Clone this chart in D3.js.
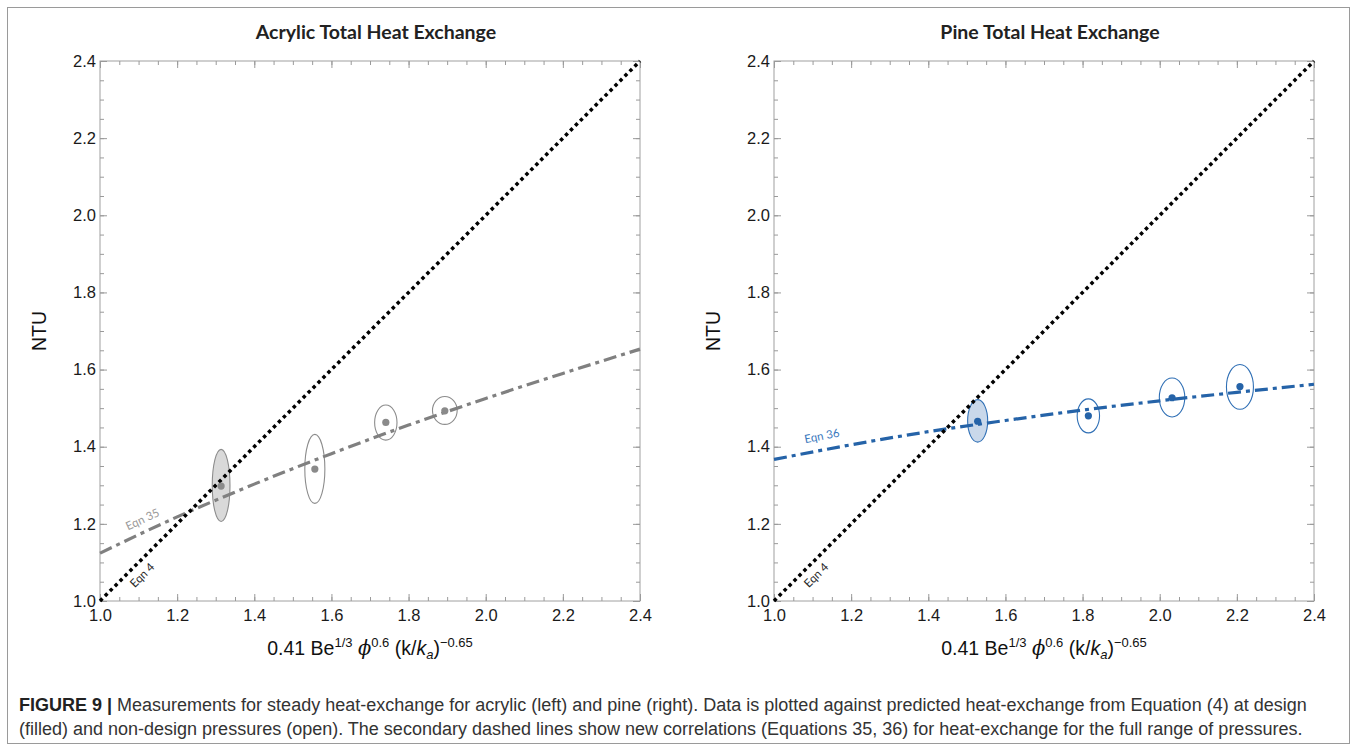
<!DOCTYPE html>
<html>
<head>
<meta charset="utf-8">
<script src="https://cdn.jsdelivr.net/npm/d3@7"></script>
<style>
  body { margin: 0; background: #fff; }
  svg { display: block; font-family: "Liberation Sans", Arial, sans-serif; }
</style>
</head>
<body>
<svg width="1357" height="750"></svg>
<script>
// axis ticks (both panels share the same range)
const majorTicks = [1.0, 1.2, 1.4, 1.6, 1.8, 2.0, 2.2, 2.4];
const minorTicks = d3.range(20, 49).map(d => d / 20);

// acrylic measurements
const acrylicX = [1.314, 1.557, 1.741, 1.894];
const acrylicY = [1.298, 1.342, 1.463, 1.493];
const acrylicLo = [1.206, 1.253, 1.417, 1.458];
const acrylicHi = [1.393, 1.432, 1.508, 1.530];
const acrylicDx = [0.023, 0.026, 0.029, 0.032];
const acrylicFilled = [true, false, false, false];

// pine measurements
const pineX = [1.528, 1.815, 2.032, 2.208];
const pineY = [1.466, 1.480, 1.527, 1.556];
const pineLo = [1.412, 1.436, 1.477, 1.497];
const pineHi = [1.522, 1.524, 1.578, 1.613];
const pineDx = [0.026, 0.029, 0.033, 0.035];
const pineFilled = [true, false, false, false];

// correlation curves
const curveX = [1.0, 1.2, 1.4, 1.6, 1.8, 2.0, 2.2, 2.4];
const eqn35Y = [1.124, 1.218, 1.303, 1.382, 1.456, 1.525, 1.590, 1.653];
const eqn36Y = [1.367, 1.405, 1.439, 1.468, 1.495, 1.519, 1.541, 1.562];
const eqn4X = [1.0, 2.4];
const eqn4Y = [1.0, 2.4];

const svg = d3.select('svg');

svg.append('rect')
  .attr('x', 7.5).attr('y', 7.5)
  .attr('width', 1342).attr('height', 736)
  .attr('fill', 'none')
  .attr('stroke', '#9a9a9a');

function panel(opts) {
  const x = d3.scaleLinear().domain([1, 2.4]).range([opts.left, opts.left + 540]);
  const y = d3.scaleLinear().domain([1, 2.4]).range([601, 61]);
  const g = svg.append('g');
  const fmt = d3.format('.1f');

  // frame
  g.append('rect')
    .attr('x', x(1)).attr('y', y(2.4))
    .attr('width', x(2.4) - x(1)).attr('height', y(1) - y(2.4))
    .attr('fill', 'none').attr('stroke', '#a0a0a0');

  const axes = [
    [d3.axisBottom(x), 'translate(0,' + y(1) + ')', true, 8],
    [d3.axisTop(x), 'translate(0,' + y(2.4) + ')', false, 4],
    [d3.axisLeft(y), 'translate(' + x(1) + ',0)', true, 4],
    [d3.axisRight(y), 'translate(' + x(2.4) + ',0)', false, 4]
  ];
  axes.forEach(function (a) {
    const gm = g.append('g').attr('transform', a[1]);
    gm.call(a[0].tickValues(minorTicks).tickSize(-4).tickFormat(''));
    gm.select('.domain').remove();
    gm.selectAll('line').attr('stroke', '#9a9a9a');
    const gM = g.append('g').attr('transform', a[1]);
    gM.call(a[0].tickValues(majorTicks).tickSize(-7)
      .tickPadding(a[3])
      .tickFormat(a[2] ? fmt : ''));
    gM.select('.domain').remove();
    gM.selectAll('line').attr('stroke', '#9a9a9a');
    gM.selectAll('text').attr('font-size', 16.5).attr('fill', '#1a1a1a')
      .attr('font-family', '"Liberation Sans", Arial, sans-serif');
  });

  // title
  g.append('text')
    .attr('x', opts.left + 276).attr('y', 39)
    .attr('text-anchor', 'middle')
    .attr('font-family', 'Lato, "Open Sans", sans-serif')
    .attr('font-weight', 'bold').attr('font-size', 19.5)
    .attr('fill', '#222')
    .text(opts.title);

  // y label
  g.append('text')
    .attr('transform', 'translate(' + (opts.left - 54) + ',' + y(1.7) + ') rotate(-90)')
    .attr('text-anchor', 'middle')
    .attr('font-size', 19.5).attr('fill', '#111')
    .text('NTU');

  // x label with super/subscripts
  const xl = g.append('text')
    .attr('x', opts.left + 270).attr('y', 655)
    .attr('text-anchor', 'middle')
    .attr('font-size', 19.5).attr('fill', '#111');
  xl.append('tspan').text('0.41 Be');
  xl.append('tspan').attr('dy', -8).attr('font-size', 13).text('1/3');
  xl.append('tspan').attr('dy', 8).text(' ');
  xl.append('tspan').attr('font-style', 'italic').attr('font-family', '"DejaVu Serif", serif').text('\u03D5');
  xl.append('tspan').attr('dy', -8).attr('font-size', 13).text('0.6');
  xl.append('tspan').attr('dy', 8).text(' (k/');
  xl.append('tspan').attr('font-style', 'italic').text('k');
  xl.append('tspan').attr('dy', 4).attr('font-size', 13).attr('font-style', 'italic').text('a');
  xl.append('tspan').attr('dy', -4).text(')');
  xl.append('tspan').attr('dy', -8).attr('font-size', 13).text('\u22120.65');

  // ellipses
  const pts = opts.xs.map((d, i) => ({
    x: d, y: opts.ys[i], lo: opts.lo[i], hi: opts.hi[i], dx: opts.dx[i], filled: opts.filled[i]
  }));
  g.selectAll('.ell').data(pts).enter().append('ellipse')
    .attr('class', 'ell')
    .attr('cx', d => x(d.x))
    .attr('cy', d => (y(d.lo) + y(d.hi)) / 2)
    .attr('rx', d => x(d.x + d.dx) - x(d.x))
    .attr('ry', d => (y(d.lo) - y(d.hi)) / 2)
    .attr('fill', d => d.filled ? opts.fill : 'none')
    .attr('stroke', opts.ellStroke).attr('stroke-width', 1.1);

  // correlation lines
  const line = d3.line().x(d => x(d[0])).y(d => y(d[1])).curve(d3.curveMonotoneX);
  g.append('path')
    .attr('d', line(curveX.map((d, i) => [d, opts.curve[i]])))
    .attr('fill', 'none').attr('stroke', opts.lineColor)
    .attr('stroke-width', 3.2).attr('stroke-dasharray', '13,5,4,5');
  g.append('path')
    .attr('d', line(eqn4X.map((d, i) => [d, eqn4Y[i]])))
    .attr('fill', 'none').attr('stroke', '#000')
    .attr('stroke-width', 3.5).attr('stroke-dasharray', '3.5,3.5');

  // dots
  g.selectAll('.dot').data(pts).enter().append('circle')
    .attr('cx', d => x(d.x)).attr('cy', d => y(d.y))
    .attr('r', 3.6).attr('fill', opts.dotColor);

  // annotations
  function label(tx, ty, ang, txt, color) {
    g.append('text')
      .attr('transform', 'translate(' + x(tx) + ',' + y(ty) + ') rotate(' + ang + ')')
      .attr('text-anchor', 'middle').attr('dy', '0.35em')
      .attr('font-family', 'Lato, "Open Sans", sans-serif')
      .attr('font-size', 11.5).attr('fill', color)
      .text(txt);
  }
  label(1.109, 1.067, -45, 'Eqn 4', '#262626');
  label(opts.eqnLabel[0], opts.eqnLabel[1], opts.eqnLabel[2], opts.eqnText, opts.labelColor);
}

panel({
  left: 100, title: 'Acrylic Total Heat Exchange',
  xs: acrylicX, ys: acrylicY, lo: acrylicLo, hi: acrylicHi, dx: acrylicDx, filled: acrylicFilled,
  curve: eqn35Y, fill: '#d9d9d9', ellStroke: '#8c8c8c', lineColor: '#808080', dotColor: '#8a8a8a',
  eqnText: 'Eqn 35', eqnLabel: [1.11, 1.212, -25], labelColor: '#999'
});
panel({
  left: 774, title: 'Pine Total Heat Exchange',
  xs: pineX, ys: pineY, lo: pineLo, hi: pineHi, dx: pineDx, filled: pineFilled,
  curve: eqn36Y, fill: '#c9d8ea', ellStroke: '#2f6fb5', lineColor: '#2563a8', dotColor: '#2563a8',
  eqnText: 'Eqn 36', eqnLabel: [1.124, 1.428, -11], labelColor: '#3a78bd'
});

// caption
const cap = svg.append('text').attr('font-size', 18).attr('fill', '#333');
cap.append('tspan').attr('x', 19).attr('y', 711).attr('font-weight', 'bold').attr('fill', '#222').text('FIGURE 9 | ');
cap.append('tspan').text('Measurements for steady heat-exchange for acrylic (left) and pine (right). Data is plotted against predicted heat-exchange from Equation (4) at design');
cap.append('tspan').attr('x', 19).attr('y', 735)
  .text('(filled) and non-design pressures (open). The secondary dashed lines show new correlations (Equations 35, 36) for heat-exchange for the full range of pressures.');
</script>
</body>
</html>
